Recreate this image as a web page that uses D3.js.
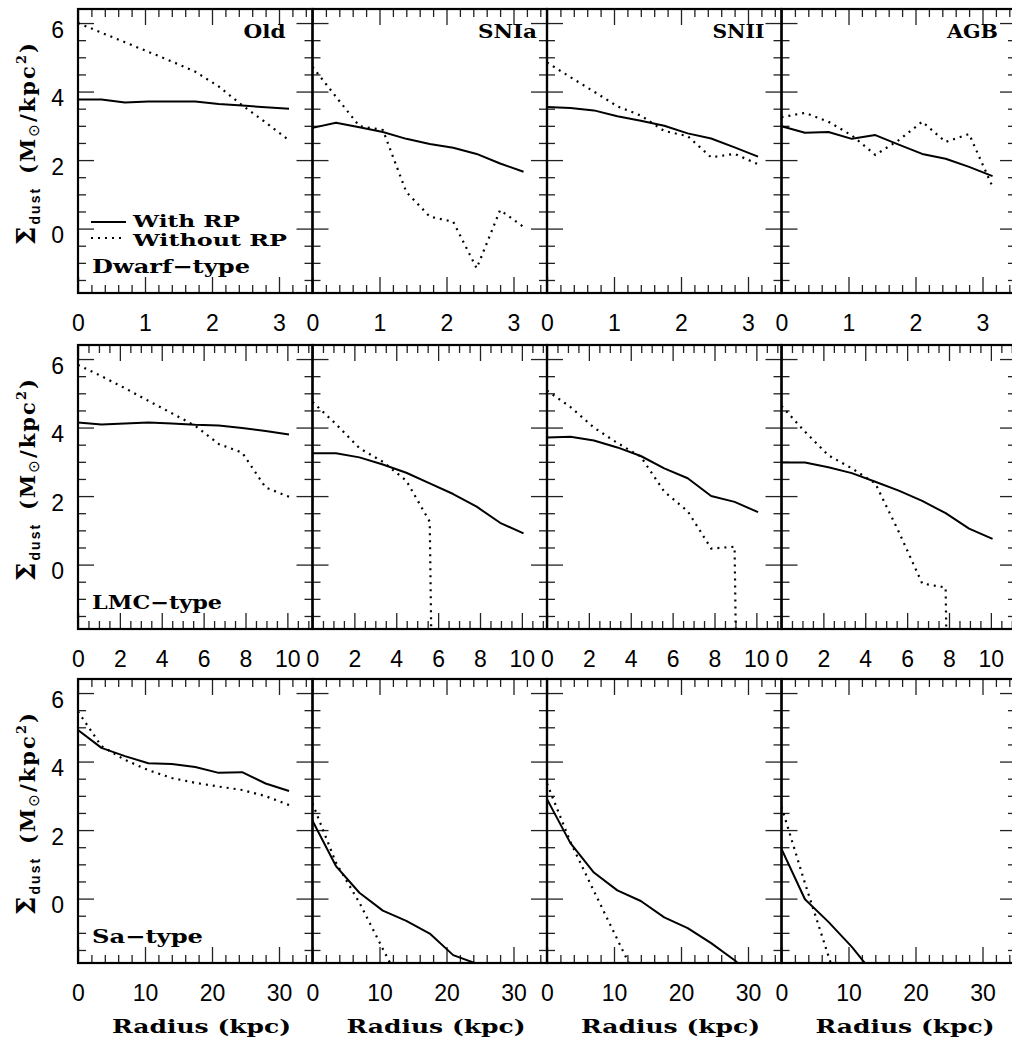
<!DOCTYPE html>
<html>
<head>
<meta charset="utf-8">
<script src="https://cdn.jsdelivr.net/npm/d3@7"></script>
<style>
  html, body { margin: 0; padding: 0; background: #fff; }
  svg { display: block; }
</style>
</head>
<body>
<svg id="chart" width="1012" height="1040"></svg>
<script>
// ---------------- DATA ----------------
const columnNames = ["Old", "SNIa", "SNII", "AGB"];
const rowNames = ["Dwarf\u2212type", "LMC\u2212type", "Sa\u2212type"];
const legendLabels = ["With RP", "Without RP"];
const xAxisTitle = "Radius (kpc)";

const radiiDwarf = [0, 0.35, 0.7, 1.05, 1.4, 1.75, 2.1, 2.45, 2.8, 3.15];
const radiiLMC   = [0, 1.12, 2.24, 3.36, 4.48, 5.6, 6.72, 7.84, 8.96, 10.08];
const radiiSa    = [0, 3.5, 7, 10.5, 14, 17.5, 21, 24.5, 28, 31.5];

// log dust surface density; -50 marks an empty (zero-dust) bin, null = not plotted
const dwarfOldRP     = [3.77, 3.77, 3.68, 3.71, 3.71, 3.71, 3.64, 3.59, 3.54, 3.50];
const dwarfOldNoRP   = [6.00, 5.72, 5.44, 5.16, 4.88, 4.58, 4.15, 3.60, 3.10, 2.58];
const dwarfSNIaRP    = [2.94, 3.09, 2.96, 2.82, 2.62, 2.47, 2.36, 2.18, 1.90, 1.66];
const dwarfSNIaNoRP  = [4.72, 3.85, 2.99, 2.88, 1.07, 0.35, 0.20, -1.16, 0.54, 0.05];
const dwarfSNIIRP    = [3.55, 3.52, 3.45, 3.28, 3.15, 3.00, 2.78, 2.63, 2.37, 2.10];
const dwarfSNIINoRP  = [4.85, 4.42, 4.00, 3.57, 3.30, 2.85, 2.70, 2.08, 2.18, 1.88];
const dwarfAGBRP     = [2.99, 2.80, 2.82, 2.62, 2.73, 2.45, 2.18, 2.04, 1.80, 1.53];
const dwarfAGBNoRP   = [3.25, 3.38, 3.12, 2.72, 2.15, 2.58, 3.12, 2.53, 2.76, 1.22];

const lmcOldRP       = [4.15, 4.09, 4.12, 4.15, 4.12, 4.08, 4.06, 3.99, 3.90, 3.80];
const lmcOldNoRP     = [5.83, 5.50, 5.15, 4.78, 4.42, 4.05, 3.52, 3.27, 2.25, 1.98];
const lmcSNIaRP      = [3.25, 3.25, 3.13, 2.92, 2.68, 2.37, 2.06, 1.69, 1.22, 0.91];
const lmcSNIaNoRP    = [4.75, 4.10, 3.40, 3.00, 2.45, 1.25, -50, -50, -50, -50];
const lmcSNIIRP      = [3.71, 3.73, 3.62, 3.42, 3.17, 2.81, 2.52, 2.00, 1.83, 1.53];
const lmcSNIINoRP    = [5.08, 4.60, 4.00, 3.55, 3.15, 2.13, 1.56, 0.47, 0.52, -50];
const lmcAGBRP       = [2.98, 2.98, 2.84, 2.67, 2.42, 2.16, 1.86, 1.50, 1.05, 0.75];
const lmcAGBNoRP     = [4.63, 3.88, 3.19, 2.81, 2.37, 0.96, -0.55, -0.67, -50, -50];

const saOldRP        = [4.92, 4.40, 4.16, 3.95, 3.93, 3.84, 3.67, 3.69, 3.36, 3.14];
const saOldNoRP      = [5.46, 4.45, 4.05, 3.75, 3.52, 3.38, 3.27, 3.17, 2.99, 2.73];
const saSNIaRP       = [2.27, 0.95, 0.17, -0.35, -0.65, -1.02, -1.65, -1.90, -2.60, null];
const saSNIaNoRP     = [2.78, 1.05, -0.12, -1.47, -2.80, null, null, null, null, null];
const saSNIIRP       = [2.90, 1.62, 0.76, 0.24, -0.07, -0.55, -0.86, -1.30, -1.80, -2.40];
const saSNIINoRP     = [3.36, 1.65, 0.22, -1.19, -2.60, null, null, null, null, null];
const saAGBRP        = [1.45, -0.02, -0.68, -1.41, -2.26, null, null, null, null, null];
const saAGBNoRP      = [2.68, 0.45, -1.67, -3.80, null, null, null, null, null, null];

const xMajorTicks = [[0, 1, 2, 3], [0, 2, 4, 6, 8, 10], [0, 10, 20, 30]];
const xMinorStep = [0.2, 0.5, 2];
const xDomains = [[0, 3.5], [0, 11.2], [0, 35]];
const yMajorTicks = [0, 2, 4, 6];
const yMinorStep = 0.5;
const yDomain = [-1.88, 6.41];

const radii = [radiiDwarf, radiiLMC, radiiSa];
const withRP = [
  [dwarfOldRP, dwarfSNIaRP, dwarfSNIIRP, dwarfAGBRP],
  [lmcOldRP, lmcSNIaRP, lmcSNIIRP, lmcAGBRP],
  [saOldRP, saSNIaRP, saSNIIRP, saAGBRP]
];
const withoutRP = [
  [dwarfOldNoRP, dwarfSNIaNoRP, dwarfSNIINoRP, dwarfAGBNoRP],
  [lmcOldNoRP, lmcSNIaNoRP, lmcSNIINoRP, lmcAGBNoRP],
  [saOldNoRP, saSNIaNoRP, saSNIINoRP, saAGBNoRP]
];

// ---------------- LAYOUT ----------------
const svg = d3.select("#chart");
const panelW = 234.5, panelH = 284;
const colLeft = c => 78 + c * panelW;
const rowTop = [9, 345, 679];

const serif = "'DejaVu Serif', 'Liberation Serif', serif";
const sans = "'Liberation Sans', Arial, sans-serif";

function range(start, stop, step) {
  const n = Math.floor((stop - start) / step + 1e-9);
  return d3.range(0, n + 1).map(i => +(start + i * step).toFixed(6));
}

const defs = svg.append("defs");

for (let r = 0; r < 3; r++) {
  for (let c = 0; c < 4; c++) {
    const x0 = colLeft(c), y0 = rowTop[r];
    const x = d3.scaleLinear().domain(xDomains[r]).range([x0, x0 + panelW]);
    const y = d3.scaleLinear().domain(yDomain).range([y0 + panelH, y0]);
    const g = svg.append("g");

    const xMinor = range(xDomains[r][0], xDomains[r][1], xMinorStep[r]).filter(v => !xMajorTicks[r].includes(v));
    const yMinor = range(-1.5, 6.0, yMinorStep).filter(v => !yMajorTicks.includes(v));

    const styleAxis = sel => {
      sel.select(".domain").remove();
      sel.selectAll(".tick line").attr("stroke", "#222").attr("stroke-width", 1.3);
    };

    // bottom axis (ticks point up), with labels
    g.append("g").attr("transform", `translate(0,${y0 + panelH})`)
      .call(d3.axisBottom(x).tickValues(xMajorTicks[r]).tickSize(-16).tickPadding(22).tickFormat(d3.format("d")))
      .call(styleAxis)
      .call(s => s.selectAll("text").attr("font-family", sans).attr("font-size", 23).attr("fill", "#000"));
    g.append("g").attr("transform", `translate(0,${y0 + panelH})`)
      .call(d3.axisBottom(x).tickValues(xMinor).tickSize(-8).tickFormat(""))
      .call(styleAxis);
    // top axis (ticks point down)
    g.append("g").attr("transform", `translate(0,${y0})`)
      .call(d3.axisTop(x).tickValues(xMajorTicks[r]).tickSize(-16).tickFormat(""))
      .call(styleAxis);
    g.append("g").attr("transform", `translate(0,${y0})`)
      .call(d3.axisTop(x).tickValues(xMinor).tickSize(-8).tickFormat(""))
      .call(styleAxis);
    // left axis
    const left = g.append("g").attr("transform", `translate(${x0},0)`)
      .call(d3.axisLeft(y).tickValues(yMajorTicks).tickSize(-16).tickPadding(14)
        .tickFormat(c === 0 ? d3.format("d") : ""))
      .call(styleAxis);
    left.selectAll("text").attr("font-family", sans).attr("font-size", 23).attr("fill", "#000").attr("dy", 14);
    g.append("g").attr("transform", `translate(${x0},0)`)
      .call(d3.axisLeft(y).tickValues(yMinor).tickSize(-8).tickFormat(""))
      .call(styleAxis);
    // right axis
    g.append("g").attr("transform", `translate(${x0 + panelW},0)`)
      .call(d3.axisRight(y).tickValues(yMajorTicks).tickSize(-16).tickFormat(""))
      .call(styleAxis);
    g.append("g").attr("transform", `translate(${x0 + panelW},0)`)
      .call(d3.axisRight(y).tickValues(yMinor).tickSize(-8).tickFormat(""))
      .call(styleAxis);

    // clip
    const clipId = `clip-${r}-${c}`;
    defs.append("clipPath").attr("id", clipId).append("rect")
      .attr("x", x0).attr("y", y0).attr("width", panelW).attr("height", panelH);

    const line = d3.line()
      .defined(d => d[1] !== null)
      .x(d => x(d[0])).y(d => y(d[1]));

    const solidData = radii[r].map((rv, i) => [rv, withRP[r][c][i]]);
    const dotData = radii[r].map((rv, i) => [rv, withoutRP[r][c][i]]);

    g.append("path").attr("clip-path", `url(#${clipId})`)
      .attr("d", line(dotData)).attr("fill", "none").attr("stroke", "#000")
      .attr("stroke-width", 2.2).attr("stroke-dasharray", "2,5");
    g.append("path").attr("clip-path", `url(#${clipId})`)
      .attr("d", line(solidData)).attr("fill", "none").attr("stroke", "#000")
      .attr("stroke-width", 2).attr("stroke-linejoin", "round");

    // frame
    g.append("rect").attr("x", x0).attr("y", y0).attr("width", panelW).attr("height", panelH)
      .attr("fill", "none").attr("stroke", "#000").attr("stroke-width", 2.2);

    // column label
    if (r === 0) {
      const widths = [42, 59, 52, 51];
      g.append("text").attr("x", x0 + 165.5).attr("y", y0 + 29)
        .attr("font-family", serif).attr("font-weight", "bold").attr("font-size", 18)
        .attr("textLength", widths[c]).attr("lengthAdjust", "spacingAndGlyphs")
        .text(columnNames[c]);
    }
    // row label
    if (c === 0) {
      const widths = [158, 130, 111];
      g.append("text").attr("x", x0 + 14).attr("y", y0 + 264)
        .attr("font-family", serif).attr("font-weight", "bold").attr("font-size", 19)
        .attr("textLength", widths[r]).attr("lengthAdjust", "spacingAndGlyphs")
        .text(rowNames[r]);

      // y title
      const t = svg.append("text")
        .attr("transform", `translate(35,${y0 + 135}) rotate(-90)`)
        .attr("text-anchor", "middle")
        .attr("font-family", serif).attr("font-weight", "bold").attr("font-size", 21)
        .attr("textLength", 202).attr("lengthAdjust", "spacing");
      t.append("tspan").attr("font-size", 26).text("\u03A3");
      t.append("tspan").attr("font-family", sans).attr("font-size", 14).attr("dy", 5).text("dust");
      t.append("tspan").attr("dy", -5).text("\u2002(M");
      t.append("tspan").attr("font-family", "'DejaVu Sans', sans-serif").attr("font-weight", "normal")
        .attr("font-size", 15).attr("dy", 4).text("\u2299");
      t.append("tspan").attr("dy", -4).text("/kpc");
      t.append("tspan").attr("font-size", 13).attr("dy", -9).text("2");
      t.append("tspan").attr("dy", 9).text(")");
    }
    // x title
    if (r === 2) {
      g.append("text").attr("x", x0 + 34).attr("y", 1033)
        .attr("font-family", serif).attr("font-weight", "bold").attr("font-size", 19)
        .attr("textLength", 179).attr("lengthAdjust", "spacingAndGlyphs")
        .text(xAxisTitle);
    }
    // legend
    if (r === 0 && c === 0) {
      g.append("line").attr("x1", x0 + 13).attr("x2", x0 + 48).attr("y1", y0 + 213).attr("y2", y0 + 213)
        .attr("stroke", "#000").attr("stroke-width", 2);
      g.append("line").attr("x1", x0 + 13).attr("x2", x0 + 48).attr("y1", y0 + 229).attr("y2", y0 + 229)
        .attr("stroke", "#000").attr("stroke-width", 2.2).attr("stroke-dasharray", "2,5");
      g.append("text").attr("x", x0 + 55).attr("y", y0 + 218)
        .attr("font-family", serif).attr("font-weight", "bold").attr("font-size", 16.5)
        .attr("textLength", 107).attr("lengthAdjust", "spacingAndGlyphs").text(legendLabels[0]);
      g.append("text").attr("x", x0 + 55).attr("y", y0 + 237)
        .attr("font-family", serif).attr("font-weight", "bold").attr("font-size", 16.5)
        .attr("textLength", 154).attr("lengthAdjust", "spacingAndGlyphs").text(legendLabels[1]);
    }
  }
}
</script>
</body>
</html>
